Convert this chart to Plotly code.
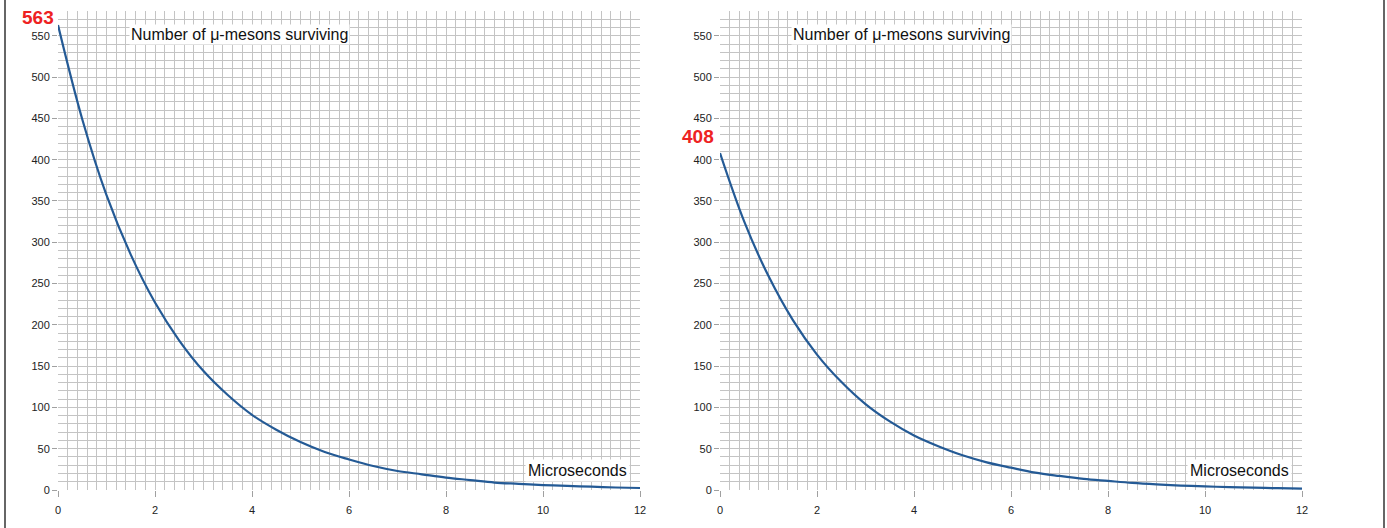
import plotly.graph_objects as go

# Data
t_us = [0, 0.5, 1, 1.5, 2, 2.5, 3, 3.5, 4, 4.5, 5, 5.5, 6, 6.5, 7, 7.5, 8,
        8.5, 9, 9.5, 10, 10.5, 11, 11.5, 12]
left_counts = [563, 449, 357, 285, 227, 181, 144, 115, 91, 73, 58, 46, 37, 29,
               23, 19, 15, 12, 9, 7.5, 6, 5, 4, 3, 2.4]
right_counts = [408, 325, 259, 206, 164, 131, 104, 83, 66, 53, 42, 33.5, 27, 21,
                17, 13.5, 11, 8.6, 6.8, 5.4, 4.3, 3.5, 2.8, 2.2, 1.7]
start_labels = ["563", "408"]
x_ticks = [0, 2, 4, 6, 8, 10, 12]
y_ticks = list(range(0, 551, 50))

LINE = "#245a95"
GRID = "#c4c4c4"
FONT = "Liberation Sans, Arial, sans-serif"

fig = go.Figure()
fig.add_trace(go.Scatter(x=t_us, y=left_counts, mode="lines", line=dict(color=LINE, width=2.2, shape="spline"),
                         xaxis="x", yaxis="y", showlegend=False, hoverinfo="skip"))
fig.add_trace(go.Scatter(x=t_us, y=right_counts, mode="lines", line=dict(color=LINE, width=2.2, shape="spline"),
                         xaxis="x2", yaxis="y2", showlegend=False, hoverinfo="skip"))

W, H = 1387, 528
def px_x(p): return p / W
def px_y(p): return 1 - p / H

ydom = [px_y(490), px_y(11)]
xaxis_common = dict(range=[0, 12], tickvals=x_ticks, showgrid=True, gridcolor=GRID, gridwidth=1,
                    minor=dict(dtick=0.2, showgrid=True, gridcolor=GRID, gridwidth=1),
                    ticks="outside", ticklen=6, tickcolor="#a0a0a0", ticklabelstandoff=4,
                    zeroline=False, showline=False, automargin=False,
                    tickfont=dict(family=FONT, size=11, color="#222"))
yaxis_common = dict(range=[0, 580], tickvals=y_ticks, showgrid=True, gridcolor=GRID, gridwidth=1,
                    minor=dict(dtick=10, showgrid=True, gridcolor=GRID, gridwidth=1),
                    ticks="outside", ticklen=5, tickcolor="#a0a0a0",
                    zeroline=False, showline=False, domain=ydom, automargin=False,
                    tickfont=dict(family=FONT, size=11, color="#222"))

fig.update_layout(
    width=W, height=H, margin=dict(l=0, r=0, t=0, b=0, autoexpand=False),
    paper_bgcolor="white", plot_bgcolor="white",
    xaxis=dict(domain=[px_x(58), px_x(640)], anchor="y", **xaxis_common),
    yaxis=dict(anchor="x", **yaxis_common),
    xaxis2=dict(domain=[px_x(720), px_x(1302)], anchor="y2", **xaxis_common),
    yaxis2=dict(anchor="x2", **yaxis_common),
)

for xr, yr in [("x", "y"), ("x2", "y2")]:
    fig.add_annotation(x=3.74, y=551, xref=xr, yref=yr, text="Number of μ-mesons surviving",
                       showarrow=False, bgcolor="white", borderpad=1,
                       xanchor="center", yanchor="middle",
                       font=dict(family=FONT, size=16, color="#111"))
    fig.add_annotation(x=10.72, y=24, xref=xr, yref=yr, text="Microseconds",
                       showarrow=False, bgcolor="white", borderpad=2,
                       xanchor="center", yanchor="middle",
                       font=dict(family=FONT, size=16, color="#111"))

fig.add_annotation(x=px_x(38), y=px_y(18), xref="paper", yref="paper", text="<b>" + start_labels[0] + "</b>",
                   showarrow=False, xanchor="center", yanchor="middle",
                   font=dict(family=FONT, size=19, color="#ee2222"))
fig.add_annotation(x=px_x(698), y=px_y(136), xref="paper", yref="paper", text="<b>" + start_labels[1] + "</b>",
                   showarrow=False, xanchor="center", yanchor="middle",
                   font=dict(family=FONT, size=19, color="#ee2222"))

for xp in [5, 1384]:
    fig.add_shape(type="line", xref="paper", yref="paper", x0=px_x(xp), x1=px_x(xp), y0=0, y1=1,
                  line=dict(color="#666666", width=2))

fig.write_html("out.html", config={"displayModeBar": False},
               post_script="document.body.style.margin='0';document.body.style.overflow='hidden';")
